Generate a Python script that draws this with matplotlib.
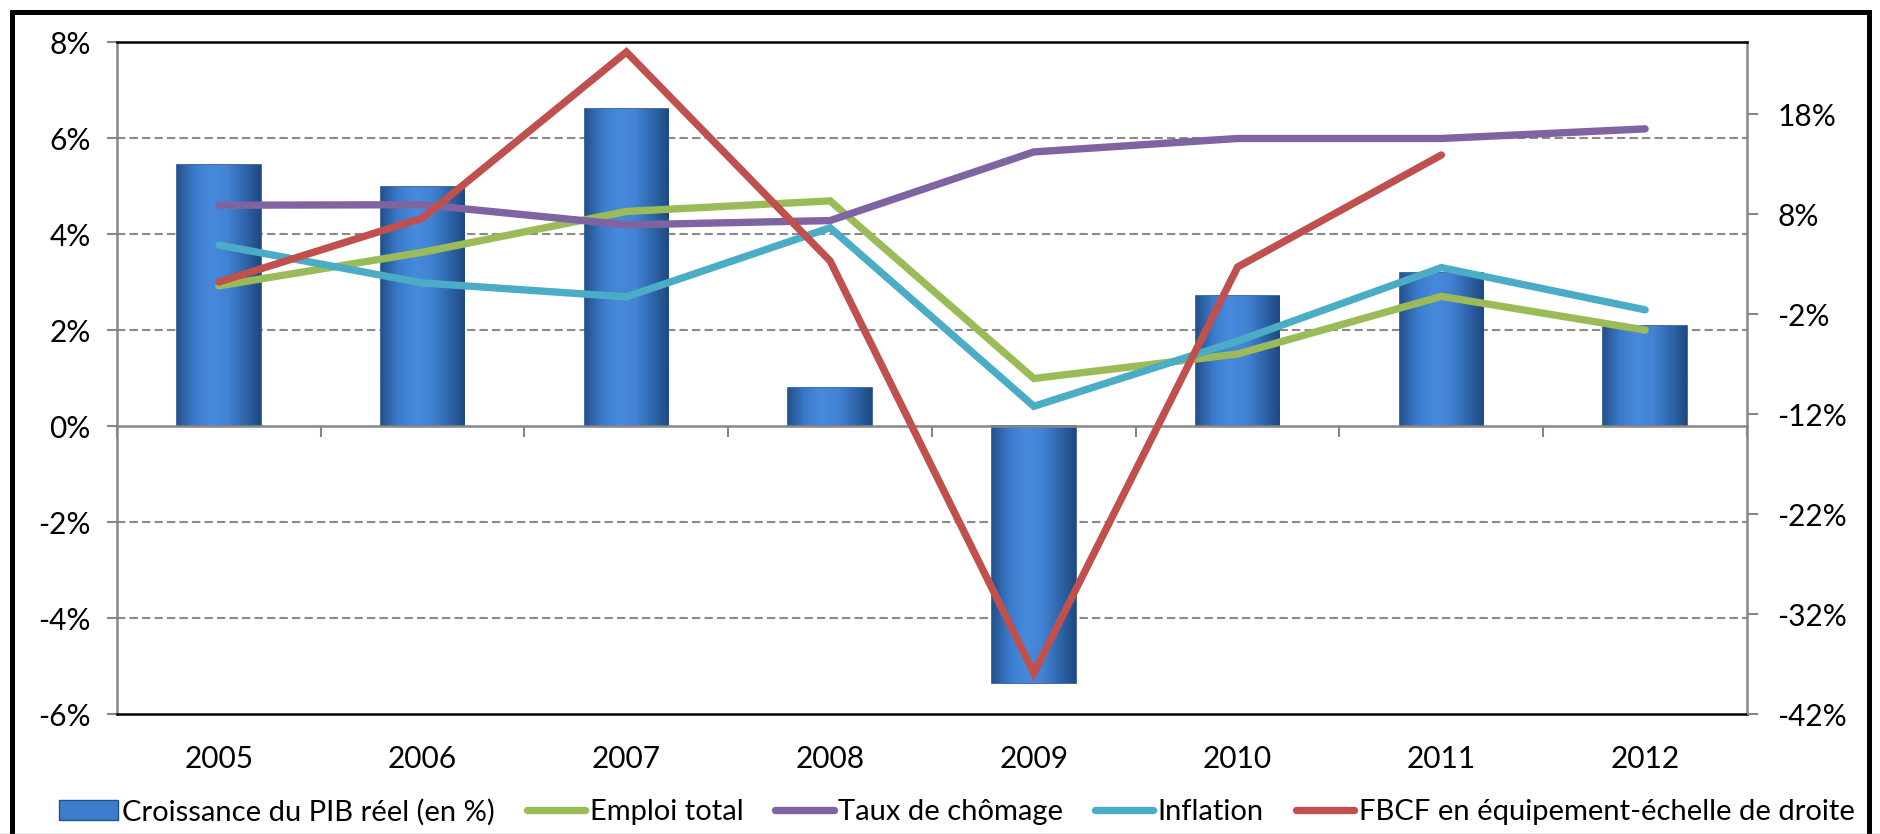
import numpy as np
import matplotlib
matplotlib.use("Agg")
import matplotlib.pyplot as plt
from matplotlib.colors import LinearSegmentedColormap
from matplotlib.patches import Rectangle, Patch
from matplotlib.lines import Line2D
from matplotlib.ticker import FuncFormatter

plt.rcParams['font.family'] = ['Lato', 'DejaVu Sans']

years = ['2005', '2006', '2007', '2008', '2009', '2010', '2011', '2012']
pib = [5.43, 4.97, 6.6, 0.79, -5.35, 2.7, 3.18, 2.08]
emploi = [2.92, 3.62, 4.47, 4.69, 0.99, 1.5, 2.7, 2.0]
chomage = [4.6, 4.61, 4.19, 4.28, 5.71, 5.99, 5.99, 6.19]
inflation = [3.77, 2.98, 2.69, 4.13, 0.41, 1.77, 3.3, 2.42]
fbcf = [1.2, 7.6, 24.2, 3.3, -37.9, 2.7, 13.9, np.nan]   # echelle de droite

left_ticks = [-6, -4, -2, 0, 2, 4, 6, 8]
right_ticks = [-42, -32, -22, -12, -2, 8, 18]

lbl_pib = 'Croissance du PIB réel (en %)'
lbl_emploi = 'Emploi total'
lbl_chomage = 'Taux de chômage'
lbl_infl = 'Inflation'
lbl_fbcf = 'FBCF en équipement-échelle de droite'

W, H = 1881, 834
fig = plt.figure(figsize=(W / 100, H / 100), dpi=100)
ax = fig.add_axes([117 / W, 1 - 714 / H, (1747 - 117) / W, (714 - 42) / H])

x = np.arange(len(years))
fs = 21.5

# bars with a soft horizontal gradient
bars = ax.bar(x, pib, width=0.41, color='#3c7ccb', edgecolor='#23528c', linewidth=1.2, zorder=2)
cmap = LinearSegmentedColormap.from_list('bar', ['#24528e', '#3b7bcb', '#4789db', '#4283d4', '#3068ae', '#1f4a82'])
grad = np.linspace(0, 1, 64).reshape(1, -1)
for b in bars:
    x0, y0, bw, bh = b.get_x(), b.get_y(), b.get_width(), b.get_height()
    im = ax.imshow(grad, cmap=cmap, extent=[x0, x0 + bw, y0, y0 + bh], aspect='auto', zorder=2.1)
    im.set_clip_path(b)

lw = 5.3
ax.plot(x, emploi, color='#9bbb59', lw=lw, solid_capstyle='round', solid_joinstyle='miter', zorder=3)
ax.plot(x, chomage, color='#8064a2', lw=lw, solid_capstyle='round', solid_joinstyle='miter', zorder=3)
ax.plot(x, inflation, color='#4bacc6', lw=lw, solid_capstyle='round', solid_joinstyle='miter', zorder=3)

ax.set_xlim(-0.5, len(years) - 0.5)
ax.set_ylim(left_ticks[0], left_ticks[-1])
ax.set_yticks(left_ticks)
ax.yaxis.set_major_formatter(FuncFormatter(lambda v, p: f'{v:.0f}%'))
ax.set_xticks(x)
ax.set_xticklabels(years)
ax.tick_params(axis='x', length=0, pad=22, labelsize=fs)
ax.tick_params(axis='y', length=7, width=1.5, color='#868686', pad=12, labelsize=fs)

for v in left_ticks[1:-1]:
    if v != 0:
        ax.axhline(v, color='#8a8a8a', lw=1.5, ls=(0, (4, 2)), zorder=1)

for s in ['top', 'bottom']:
    ax.spines[s].set_color('#000000')
    ax.spines[s].set_linewidth(1.8)
for s in ['left', 'right']:
    ax.spines[s].set_color('#868686')
    ax.spines[s].set_linewidth(1.8)

# category axis crossing at zero
zero_pos = (0 - left_ticks[0]) / (left_ticks[-1] - left_ticks[0])
sec = ax.secondary_xaxis(zero_pos)
sec.set_xticks(np.arange(len(years) + 1) - 0.5)
sec.set_xticklabels([])
sec.tick_params(direction='out', length=8, width=1.5, color='#868686')
sec.spines['bottom'].set_color('#868686')
sec.spines['bottom'].set_linewidth(1.8)
sec.set_zorder(2.5)

ax2 = ax.twinx()
ax2.plot(x, fbcf, color='#c0504d', lw=lw, solid_capstyle='round', solid_joinstyle='miter', zorder=4)
ax2.set_ylim(right_ticks[0], right_ticks[0] + 67.2)
ax2.set_yticks(right_ticks)
ax2.yaxis.set_major_formatter(FuncFormatter(lambda v, p: f'{v:.0f}%'))
ax2.tick_params(axis='y', length=8, width=1.5, color='#868686', pad=14, labelsize=fs)
for s in ax2.spines.values():
    s.set_visible(False)

handles = [
    Patch(facecolor='#3c7ccb', edgecolor='#23528c', label=lbl_pib),
    Line2D([], [], color='#9bbb59', lw=lw, solid_capstyle='round', label=lbl_emploi),
    Line2D([], [], color='#8064a2', lw=lw, solid_capstyle='round', label=lbl_chomage),
    Line2D([], [], color='#4bacc6', lw=lw, solid_capstyle='round', label=lbl_infl),
    Line2D([], [], color='#c0504d', lw=lw, solid_capstyle='round', label=lbl_fbcf),
]
fig.legend(handles=handles, loc='center', bbox_to_anchor=(957 / W, 1 - 812 / H), ncol=5,
           frameon=False, fontsize=21, handlelength=2.0, handletextpad=0.15,
           columnspacing=1.1, borderpad=0, borderaxespad=0)

# outer chart frame
fig.patches.append(Rectangle((12 / W, -0.02), (1869 - 12) / W, 1.02 - 12 / H,
                             transform=fig.transFigure, fill=False, edgecolor='black', lw=3.6))
fig.lines.append(Line2D([0, 1], [0.5 / H, 0.5 / H], transform=fig.transFigure, color='#999999', lw=1))

fig.savefig('out.png', dpi=100, facecolor='white')
